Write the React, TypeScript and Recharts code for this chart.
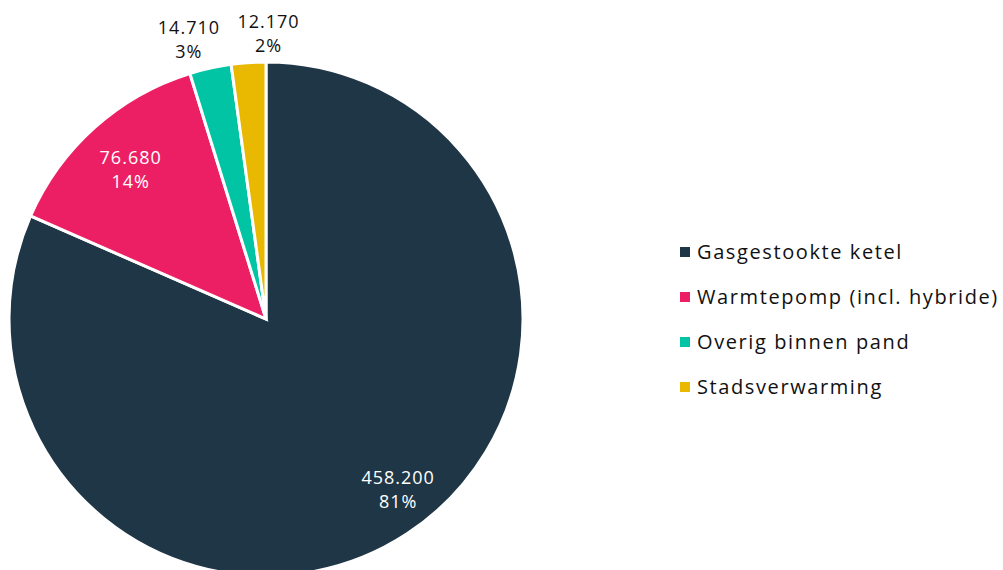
import { PieChart, Pie, Cell, Legend } from 'recharts';

const categories = ['Gasgestookte ketel', 'Warmtepomp (incl. hybride)', 'Overig binnen pand', 'Stadsverwarming'];
const values = [458200, 76680, 14710, 12170];
const valueLabels = ['458.200', '76.680', '14.710', '12.170'];
const percentLabels = ['81%', '14%', '3%', '2%'];
const colors = ['#1F3646', '#EC1F65', '#00C4A4', '#E9B800'];

const data = categories.map((name, i) => ({ name, value: values[i] }));

const FONT = '"Open Sans", sans-serif';
const RAD = Math.PI / 180;

// label placement, roughly like the original (small slices get labels outside)
const outside = [false, false, true, true];
const radiusFactor = [0.84, 0.79, 1.115, 1.115];
const nudgeX = [14, 0, -15, 22];
const nudgeY = [-11, 1, 0, 0];

function renderLabel(props: any) {
  const { cx, cy, midAngle, outerRadius, index } = props;
  const r = outerRadius * radiusFactor[index];
  const x = cx + r * Math.cos(-midAngle * RAD) + nudgeX[index];
  const y = cy + r * Math.sin(-midAngle * RAD) + nudgeY[index];
  const fill = outside[index] ? '#111' : '#fff';
  return (
    <text x={x} y={y} fill={fill} textAnchor="middle" fontFamily={FONT} fontSize={18} letterSpacing={1}>
      <tspan x={x} dy={-5}>{valueLabels[index]}</tspan>
      <tspan x={x} dy={24}>{percentLabels[index]}</tspan>
    </text>
  );
}

function LegendContent() {
  return (
    <div style={{ fontFamily: FONT, fontSize: 20, letterSpacing: 1.6, color: '#111' }}>
      {categories.map((c, i) => (
        <div key={c} style={{ display: 'flex', alignItems: 'center', height: 45 }}>
          <span style={{ width: 10, height: 10, background: colors[i], marginRight: 7, display: 'inline-block' }} />
          <span>{c}</span>
        </div>
      ))}
    </div>
  );
}

export default function App() {
  return (
    <div style={{ position: 'absolute', left: 0, top: 0 }}>
      <PieChart width={1003} height={570}>
        <Pie
          data={data}
          dataKey="value"
          cx={261}
          cy={314}
          outerRadius={257}
          startAngle={90}
          endAngle={-270}
          stroke="#fff"
          strokeWidth={3}
          label={renderLabel}
          labelLine={false}
          isAnimationActive={false}
        >
          {data.map((d, i) => (
            <Cell key={d.name} fill={colors[i]} />
          ))}
        </Pie>
        <Legend
          content={<LegendContent />}
          wrapperStyle={{ left: 680, top: 229, width: 330 }}
        />
      </PieChart>
    </div>
  );
}
